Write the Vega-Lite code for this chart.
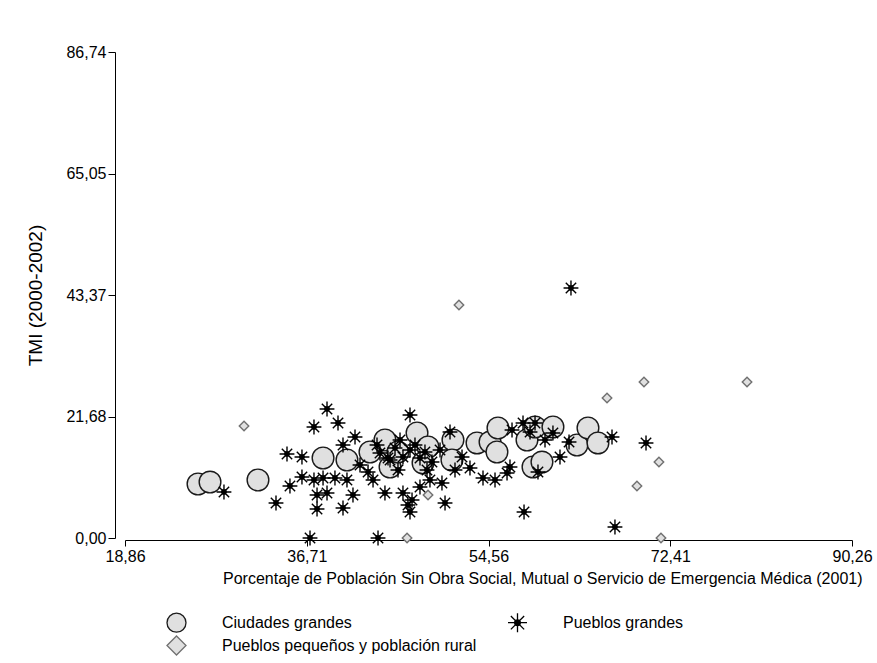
{
  "$schema": "https://vega.github.io/schema/vega-lite/v6.json",
  "autosize": "none",
  "width": 727,
  "height": 486,
  "padding": {"left": 125, "top": 52, "right": 25, "bottom": 125},
  "background": "white",
  "config": {
    "view": {"stroke": null},
    "font": "Liberation Sans",
    "axis": {"grid": false, "domainColor": "#000000", "tickColor": "#000000", "labelColor": "#000000", "titleColor": "#000000", "labelFont": "Liberation Sans", "titleFont": "Liberation Sans", "titleFontWeight": "normal", "domainWidth": 1, "tickWidth": 1}
  },
  "data": {
    "values": [
      {"x": 26.03, "y": 9.64, "t": "Ciudades grandes"},
      {"x": 27.21, "y": 9.99, "t": "Ciudades grandes"},
      {"x": 31.92, "y": 10.35, "t": "Ciudades grandes"},
      {"x": 38.31, "y": 14.28, "t": "Ciudades grandes"},
      {"x": 40.66, "y": 13.92, "t": "Ciudades grandes"},
      {"x": 42.92, "y": 15.35, "t": "Ciudades grandes"},
      {"x": 44.39, "y": 17.49, "t": "Ciudades grandes"},
      {"x": 44.89, "y": 12.67, "t": "Ciudades grandes"},
      {"x": 45.67, "y": 15.35, "t": "Ciudades grandes"},
      {"x": 47.54, "y": 18.74, "t": "Ciudades grandes"},
      {"x": 48.62, "y": 16.24, "t": "Ciudades grandes"},
      {"x": 48.13, "y": 13.39, "t": "Ciudades grandes"},
      {"x": 51.07, "y": 17.49, "t": "Ciudades grandes"},
      {"x": 50.97, "y": 13.92, "t": "Ciudades grandes"},
      {"x": 53.43, "y": 16.96, "t": "Ciudades grandes"},
      {"x": 54.71, "y": 17.13, "t": "Ciudades grandes"},
      {"x": 55.49, "y": 19.63, "t": "Ciudades grandes"},
      {"x": 55.39, "y": 15.35, "t": "Ciudades grandes"},
      {"x": 58.34, "y": 17.49, "t": "Ciudades grandes"},
      {"x": 59.13, "y": 19.81, "t": "Ciudades grandes"},
      {"x": 58.93, "y": 12.67, "t": "Ciudades grandes"},
      {"x": 59.81, "y": 13.56, "t": "Ciudades grandes"},
      {"x": 60.89, "y": 19.81, "t": "Ciudades grandes"},
      {"x": 63.25, "y": 16.60, "t": "Ciudades grandes"},
      {"x": 64.33, "y": 19.63, "t": "Ciudades grandes"},
      {"x": 65.31, "y": 16.96, "t": "Ciudades grandes"},
      {"x": 28.58, "y": 8.21, "t": "Pueblos grandes"},
      {"x": 33.69, "y": 6.25, "t": "Pueblos grandes"},
      {"x": 35.06, "y": 9.28, "t": "Pueblos grandes"},
      {"x": 34.77, "y": 14.99, "t": "Pueblos grandes"},
      {"x": 36.24, "y": 14.46, "t": "Pueblos grandes"},
      {"x": 37.42, "y": 19.81, "t": "Pueblos grandes"},
      {"x": 38.70, "y": 23.02, "t": "Pueblos grandes"},
      {"x": 39.78, "y": 20.53, "t": "Pueblos grandes"},
      {"x": 41.45, "y": 18.03, "t": "Pueblos grandes"},
      {"x": 40.27, "y": 16.60, "t": "Pueblos grandes"},
      {"x": 36.24, "y": 10.89, "t": "Pueblos grandes"},
      {"x": 37.42, "y": 10.35, "t": "Pueblos grandes"},
      {"x": 38.31, "y": 10.71, "t": "Pueblos grandes"},
      {"x": 39.48, "y": 10.71, "t": "Pueblos grandes"},
      {"x": 40.66, "y": 10.35, "t": "Pueblos grandes"},
      {"x": 37.72, "y": 7.67, "t": "Pueblos grandes"},
      {"x": 38.70, "y": 8.03, "t": "Pueblos grandes"},
      {"x": 37.72, "y": 5.18, "t": "Pueblos grandes"},
      {"x": 40.27, "y": 5.35, "t": "Pueblos grandes"},
      {"x": 41.25, "y": 7.67, "t": "Pueblos grandes"},
      {"x": 37.03, "y": 0.0, "t": "Pueblos grandes"},
      {"x": 43.71, "y": 0.0, "t": "Pueblos grandes"},
      {"x": 41.94, "y": 13.03, "t": "Pueblos grandes"},
      {"x": 42.73, "y": 11.78, "t": "Pueblos grandes"},
      {"x": 43.61, "y": 16.60, "t": "Pueblos grandes"},
      {"x": 43.90, "y": 15.17, "t": "Pueblos grandes"},
      {"x": 44.69, "y": 14.28, "t": "Pueblos grandes"},
      {"x": 45.38, "y": 16.06, "t": "Pueblos grandes"},
      {"x": 45.87, "y": 17.49, "t": "Pueblos grandes"},
      {"x": 46.16, "y": 14.46, "t": "Pueblos grandes"},
      {"x": 46.85, "y": 15.71, "t": "Pueblos grandes"},
      {"x": 44.89, "y": 13.92, "t": "Pueblos grandes"},
      {"x": 43.22, "y": 10.35, "t": "Pueblos grandes"},
      {"x": 44.39, "y": 8.03, "t": "Pueblos grandes"},
      {"x": 46.16, "y": 8.03, "t": "Pueblos grandes"},
      {"x": 47.05, "y": 6.78, "t": "Pueblos grandes"},
      {"x": 46.85, "y": 4.64, "t": "Pueblos grandes"},
      {"x": 46.65, "y": 5.89, "t": "Pueblos grandes"},
      {"x": 46.85, "y": 21.95, "t": "Pueblos grandes"},
      {"x": 47.83, "y": 9.10, "t": "Pueblos grandes"},
      {"x": 48.81, "y": 10.35, "t": "Pueblos grandes"},
      {"x": 49.99, "y": 9.82, "t": "Pueblos grandes"},
      {"x": 48.52, "y": 12.14, "t": "Pueblos grandes"},
      {"x": 50.29, "y": 6.25, "t": "Pueblos grandes"},
      {"x": 50.78, "y": 18.92, "t": "Pueblos grandes"},
      {"x": 51.96, "y": 14.46, "t": "Pueblos grandes"},
      {"x": 52.74, "y": 12.49, "t": "Pueblos grandes"},
      {"x": 54.02, "y": 10.71, "t": "Pueblos grandes"},
      {"x": 55.20, "y": 10.35, "t": "Pueblos grandes"},
      {"x": 56.67, "y": 12.67, "t": "Pueblos grandes"},
      {"x": 56.38, "y": 11.60, "t": "Pueblos grandes"},
      {"x": 56.87, "y": 19.28, "t": "Pueblos grandes"},
      {"x": 57.95, "y": 20.53, "t": "Pueblos grandes"},
      {"x": 59.13, "y": 20.53, "t": "Pueblos grandes"},
      {"x": 58.64, "y": 18.92, "t": "Pueblos grandes"},
      {"x": 60.11, "y": 17.49, "t": "Pueblos grandes"},
      {"x": 60.89, "y": 18.74, "t": "Pueblos grandes"},
      {"x": 62.47, "y": 17.13, "t": "Pueblos grandes"},
      {"x": 61.58, "y": 14.46, "t": "Pueblos grandes"},
      {"x": 66.69, "y": 18.03, "t": "Pueblos grandes"},
      {"x": 59.42, "y": 11.78, "t": "Pueblos grandes"},
      {"x": 58.05, "y": 4.64, "t": "Pueblos grandes"},
      {"x": 66.98, "y": 1.96, "t": "Pueblos grandes"},
      {"x": 62.66, "y": 44.62, "t": "Pueblos grandes"},
      {"x": 70.03, "y": 16.96, "t": "Pueblos grandes"},
      {"x": 47.83, "y": 14.28, "t": "Pueblos grandes"},
      {"x": 49.01, "y": 13.56, "t": "Pueblos grandes"},
      {"x": 49.80, "y": 15.71, "t": "Pueblos grandes"},
      {"x": 45.67, "y": 12.14, "t": "Pueblos grandes"},
      {"x": 51.27, "y": 12.14, "t": "Pueblos grandes"},
      {"x": 47.34, "y": 16.60, "t": "Pueblos grandes"},
      {"x": 48.32, "y": 15.35, "t": "Pueblos grandes"},
      {"x": 30.55, "y": 19.99, "t": "Pueblos pequeños y población rural"},
      {"x": 51.66, "y": 41.59, "t": "Pueblos pequeños y población rural"},
      {"x": 69.83, "y": 27.84, "t": "Pueblos pequeños y población rural"},
      {"x": 79.95, "y": 27.84, "t": "Pueblos pequeños y población rural"},
      {"x": 66.20, "y": 24.99, "t": "Pueblos pequeños y población rural"},
      {"x": 71.30, "y": 13.56, "t": "Pueblos pequeños y población rural"},
      {"x": 69.14, "y": 9.28, "t": "Pueblos pequeños y población rural"},
      {"x": 71.50, "y": 0.0, "t": "Pueblos pequeños y población rural"},
      {"x": 46.56, "y": 0.0, "t": "Pueblos pequeños y población rural"},
      {"x": 48.62, "y": 7.67, "t": "Pueblos pequeños y población rural"}
    ]
  },
  "mark": {"type": "point", "filled": true, "opacity": 1, "strokeWidth": 1.4, "clip": false},
  "encoding": {
    "x": {
      "field": "x", "type": "quantitative",
      "scale": {"domain": [18.86, 90.26], "nice": false, "zero": false},
      "axis": {
        "values": [18.86, 36.71, 54.56, 72.41, 90.26],
        "labelExpr": "replace(format(datum.value, '.2f'), '.', ',')",
        "offset": 2, "tickSize": 6, "labelPadding": 2, "labelFontSize": 16,
        "labelFlush": false,
        "title": "Porcentaje de Población Sin Obra Social, Mutual o Servicio de Emergencia Médica (2001)",
        "titleFontSize": 16, "titlePadding": 6, "titleX": 737, "titleAlign": "right"
      }
    },
    "y": {
      "field": "y", "type": "quantitative",
      "scale": {"domain": [0, 86.74], "nice": false, "zero": false},
      "axis": {
        "values": [0, 21.68, 43.37, 65.05, 86.74],
        "labelExpr": "replace(format(datum.value, '.2f'), '.', ',')",
        "offset": 10, "tickSize": 7, "labelPadding": 2, "labelFontSize": 16,
        "labelFlush": false,
        "title": "TMI (2000-2002)", "titleFontSize": 19, "titlePadding": 20
      }
    },
    "shape": {
      "field": "t", "type": "nominal",
      "scale": {
        "domain": ["Ciudades grandes", "Pueblos grandes", "Pueblos pequeños y población rural"],
        "range": ["circle", "M0,-1L0,1M-1,0L1,0M-0.7,-0.7L0.7,0.7M-0.7,0.7L0.7,-0.7M-0.3,0A0.3,0.3,0,1,1,0.3,0A0.3,0.3,0,1,1,-0.3,0Z", "diamond"]
      },
      "legend": {
        "title": null, "orient": "none", "legendX": 41, "legendY": 560,
        "columns": 2, "direction": "horizontal", "columnPadding": 28, "rowPadding": -8,
        "symbolSize": 361, "symbolStrokeWidth": 1.3, "labelFontSize": 16, "labelOffset": 35,
        "labelColor": "#000000", "labelLimit": 400, "padding": 0, "labelFont": "Liberation Sans"
      }
    },
    "fill": {
      "field": "t", "type": "nominal",
      "scale": {"domain": ["Ciudades grandes", "Pueblos grandes", "Pueblos pequeños y población rural"], "range": ["#e0e0e0", "#000000", "#e0e0e0"]},
      "legend": {
        "title": null, "orient": "none", "legendX": 41, "legendY": 560,
        "columns": 2, "direction": "horizontal", "columnPadding": 28, "rowPadding": -8,
        "symbolSize": 361, "symbolStrokeWidth": 1.3, "labelFontSize": 16, "labelOffset": 35,
        "labelColor": "#000000", "labelLimit": 400, "padding": 0, "labelFont": "Liberation Sans"
      }
    },
    "stroke": {
      "field": "t", "type": "nominal",
      "scale": {"domain": ["Ciudades grandes", "Pueblos grandes", "Pueblos pequeños y población rural"], "range": ["#1a1a1a", "#000000", "#707070"]},
      "legend": {
        "title": null, "orient": "none", "legendX": 41, "legendY": 560,
        "columns": 2, "direction": "horizontal", "columnPadding": 28, "rowPadding": -8,
        "symbolSize": 361, "symbolStrokeWidth": 1.3, "labelFontSize": 16, "labelOffset": 35,
        "labelColor": "#000000", "labelLimit": 400, "padding": 0, "labelFont": "Liberation Sans"
      }
    },
    "size": {
      "condition": [
        {"test": "datum.t === 'Ciudades grandes'", "value": 470},
        {"test": "datum.t === 'Pueblos grandes'", "value": 220}
      ],
      "value": 90
    }
  }
}
